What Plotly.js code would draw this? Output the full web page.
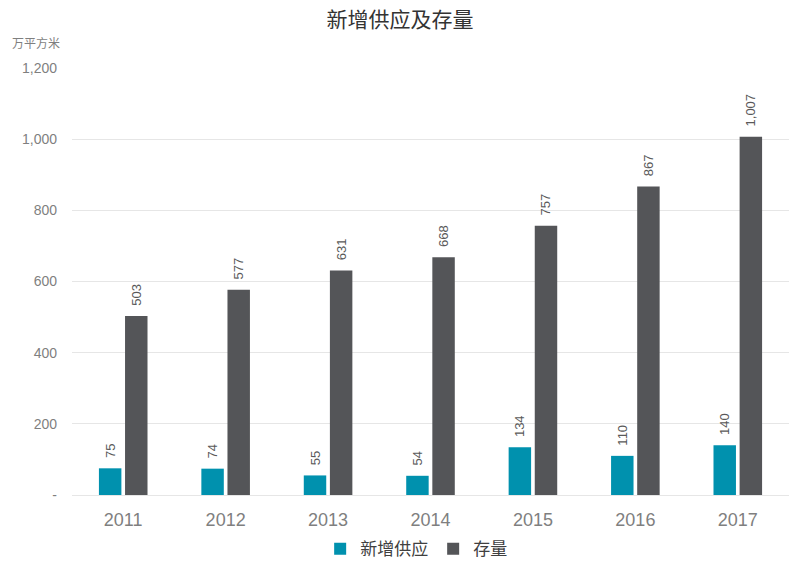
<!DOCTYPE html>
<html>
<head>
<meta charset="utf-8">
<script src="https://cdn.plot.ly/plotly-3.0.1.min.js"></script>
<style>
  html, body { margin: 0; padding: 0; background: #fff; }
  #chart { width: 800px; height: 573px; }
</style>
</head>
<body>
<div id="chart"></div>
<script>
// Données
const years = ['2011', '2012', '2013', '2014', '2015', '2016', '2017'];
const newSupply = [75, 74, 55, 54, 134, 110, 140];
const stock = [503, 577, 631, 668, 757, 867, 1007];
const yTickVals = [0, 200, 400, 600, 800, 1000, 1200];
const yTickText = ['-', '200', '400', '600', '800', '1,000', '1,200'];

// Espaces insécables en tête : décalent l'étiquette pivotée au-dessus de la barre
const fmt = v => '\u00a0\u00a0' + v.toLocaleString('en-US');
const labelFont = { family: 'Liberation Sans, Arial, sans-serif', size: 13, color: '#595959' };

const traceSupply = {
  x: years,
  y: newSupply,
  type: 'bar',
  name: '新增供应',
  marker: { color: '#0091AE' },
  text: newSupply.map(fmt),
  textposition: 'outside',
  textangle: -90,
  textfont: labelFont,
  constraintext: 'none',
  cliponaxis: false,
  hoverinfo: 'x+y+name',
};

const traceStock = {
  x: years,
  y: stock,
  type: 'bar',
  name: '存量',
  marker: { color: '#545558' },
  text: stock.map(fmt),
  textposition: 'outside',
  textangle: -90,
  textfont: labelFont,
  constraintext: 'none',
  cliponaxis: false,
  hoverinfo: 'x+y+name',
};

const layout = {
  width: 800,
  height: 573,
  title: {
    text: '新增供应及存量',
    font: { family: 'Noto Sans CJK SC, sans-serif', size: 21, color: '#333333' },
    x: 0.5,
    xanchor: 'center',
    y: 0.965,
    yanchor: 'middle',
  },
  barmode: 'group',
  bargap: 0.49,
  bargroupgap: 0.14,
  xaxis: {
    type: 'category',
    showgrid: false,
    showline: false,
    ticks: '',
    ticklabelstandoff: 12,
    tickfont: { family: 'Liberation Sans, Arial, sans-serif', size: 18, color: '#7f7f7f' },
  },
  yaxis: {
    range: [0, 1200],
    tickvals: yTickVals,
    ticktext: yTickText,
    showgrid: true,
    gridcolor: '#e6e6e6',
    gridwidth: 1,
    zeroline: true,
    zerolinecolor: '#e6e6e6',
    showline: false,
    ticks: '',
    ticklabelstandoff: 14,
    tickfont: { family: 'Liberation Sans, Arial, sans-serif', size: 14, color: '#7f7f7f' },
  },
  annotations: [{
    text: '万平方米',
    xref: 'paper', yref: 'paper',
    x: -0.087, y: 1.06,
    xanchor: 'left', yanchor: 'middle',
    showarrow: false,
    font: { family: 'Noto Sans CJK SC, sans-serif', size: 12, color: '#7f7f7f' },
  }],
  legend: {
    orientation: 'h',
    x: 0.48, xanchor: 'center',
    y: -0.085, yanchor: 'top',
    font: { family: 'Noto Sans CJK SC, sans-serif', size: 17, color: '#404040' },
    itemwidth: 30,
  },
  margin: { t: 68, r: 11, b: 78, l: 72, autoexpand: false },
  paper_bgcolor: '#ffffff',
  plot_bgcolor: '#ffffff',
  showlegend: true,
};

Plotly.newPlot('chart', [traceSupply, traceStock], layout, { displayModeBar: false, staticPlot: true });
</script>
</body>
</html>
